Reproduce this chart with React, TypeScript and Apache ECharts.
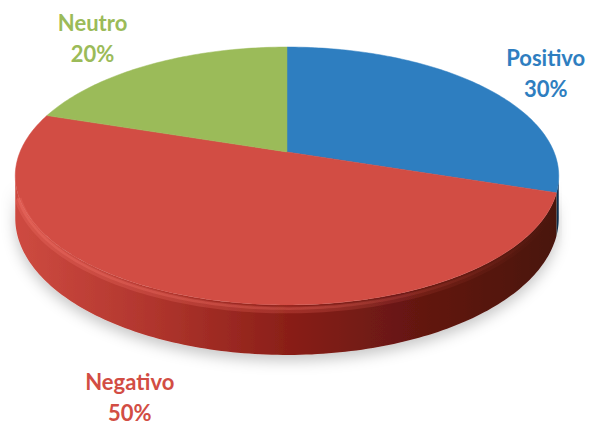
import React, { useEffect, useRef } from "react";
import * as echarts from "echarts";

const categories = ["Positivo", "Negativo", "Neutro"];
const values = [30, 50, 20];
const topColors = ["#2E7EC0", "#D24D44", "#9BBB59"];
const sideStops = [
  ["#2B72AE", "#1E5A8E", "#164A78", "#103D66", "#0C3052"],
  ["#CD4A40", "#B0352D", "#8A1F18", "#631711", "#4A120E"],
  ["#8DAA50", "#7A9444", "#667C38", "#53652D", "#415022"],
];
const labelColors = ["#2E7EC0", "#D24D44", "#9BBB59"];

// geometry of the perspective pie
const CX = 287;
const CY = 152;
const RX = 267;
const RY = 124.5;
const K = 0.186;
const H = 40.7;
const labelOffsets = [
  [64, -13],
  [-57, 52],
  [-58, -26],
];

function project(theta: number, r = 1, drop = 0) {
  const a = r * Math.sin(theta);
  const b = -r * Math.cos(theta);
  const w = 1 - K * b;
  return [CX + (RX * a) / w, CY + (RY * b) / w + drop / w];
}

function rim(s: number, e: number, drop = 0) {
  const pts: number[][] = [];
  const n = Math.max(2, Math.ceil(((e - s) * 180) / Math.PI));
  for (let i = 0; i <= n; i++) pts.push(project(s + ((e - s) * i) / n, 1, drop));
  return pts;
}

export default function App() {
  const ref = useRef<HTMLDivElement>(null);
  useEffect(() => {
    if (!ref.current) return;
    const chart = echarts.init(ref.current, null, { renderer: "svg" });
    const total = values.reduce((s, v) => s + v, 0);
    const thetaR = Math.acos(-K);
    const thetaL = 2 * Math.PI - thetaR;

    const renderItem = (params: any, api: any) => {
      const idx = params.dataIndex;
      let before = 0;
      for (let i = 0; i < idx; i++) before += values[i];
      const v = api.value(0);
      const s = (before / total) * 2 * Math.PI;
      const e = ((before + v) / total) * 2 * Math.PI;
      const children: any[] = [];
      // top face
      children.push({
        type: "polygon",
        z2: 10,
        shape: { points: [[CX, CY], ...rim(s, e)] },
        style: { fill: topColors[idx], stroke: topColors[idx], lineWidth: 0.5 },
      });
      // side wall
      const ss = Math.max(s, thetaR);
      const ee = Math.min(e, thetaL);
      if (ss < ee) {
        const topPts = rim(ss, ee);
        const botPts = rim(ss, ee, H).reverse();
        const stops = sideStops[idx];
        children.push({
          type: "polygon",
          z2: 2,
          shape: { points: [...topPts, ...botPts] },
          style: {
            fill: {
              type: "linear",
              x: CX - RX,
              y: 0,
              x2: CX + RX,
              y2: 0,
              global: true,
              colorStops: stops.map((c, i) => ({ offset: i / (stops.length - 1), color: c })),
            },
            shadowBlur: 14,
            shadowColor: "rgba(0,0,0,0.22)",
            shadowOffsetY: 6,
          },
        });
        // soft bevel highlight along the top edge
        const grad = (a0: number, a1: number) => ({
          type: "linear",
          x: CX - RX,
          y: 0,
          x2: CX + RX,
          y2: 0,
          global: true,
          colorStops: [
            { offset: 0, color: `rgba(240,112,102,${a0})` },
            { offset: 0.55, color: `rgba(232,100,90,${a1})` },
            { offset: 1, color: "rgba(200,70,60,0)" },
          ],
        });
        const hs = Math.max(ss, thetaR + 0.12);
        const he = Math.min(ee, thetaL - 0.14);
        if (hs < he) {
          children.push({
            type: "polyline",
            z2: 11,
            shape: { points: rim(hs, he, 4) },
            style: { fill: null, lineWidth: 7, stroke: grad(0.3, 0.25) },
          });
          children.push({
            type: "polyline",
            z2: 12,
            shape: { points: rim(hs, he, 3) },
            style: { fill: null, lineWidth: 2.5, stroke: grad(0.4, 0.3) },
          });
        }
      }
      // label
      const mid = (s + e) / 2;
      const front = -Math.cos(mid) > K;
      const p = project(mid, 1, front ? H : 0);
      const pct = Math.round((v / total) * 100);
      children.push({
        type: "text",
        z2: 20,
        x: p[0] + labelOffsets[idx][0],
        y: p[1] + labelOffsets[idx][1],
        style: {
          text: `${categories[idx]}\n${pct}%`,
          fill: labelColors[idx],
          font: "bold 22px Lato, 'Open Sans', sans-serif",
          lineHeight: 31,
          align: "center",
          verticalAlign: "middle",
        },
      });
      return { type: "group", children };
    };

    chart.setOption({
      animation: false,
      backgroundColor: "#ffffff",
      series: [
        {
          type: "custom",
          coordinateSystem: "none",
          renderItem,
          data: values.map((v, i) => ({ value: v, name: categories[i] })),
          silent: true,
        },
      ],
    });
    return () => chart.dispose();
  }, []);
  return (
    <div
      ref={ref}
      style={{ position: "fixed", left: 0, top: 0, width: 591, height: 425 }}
    />
  );
}
